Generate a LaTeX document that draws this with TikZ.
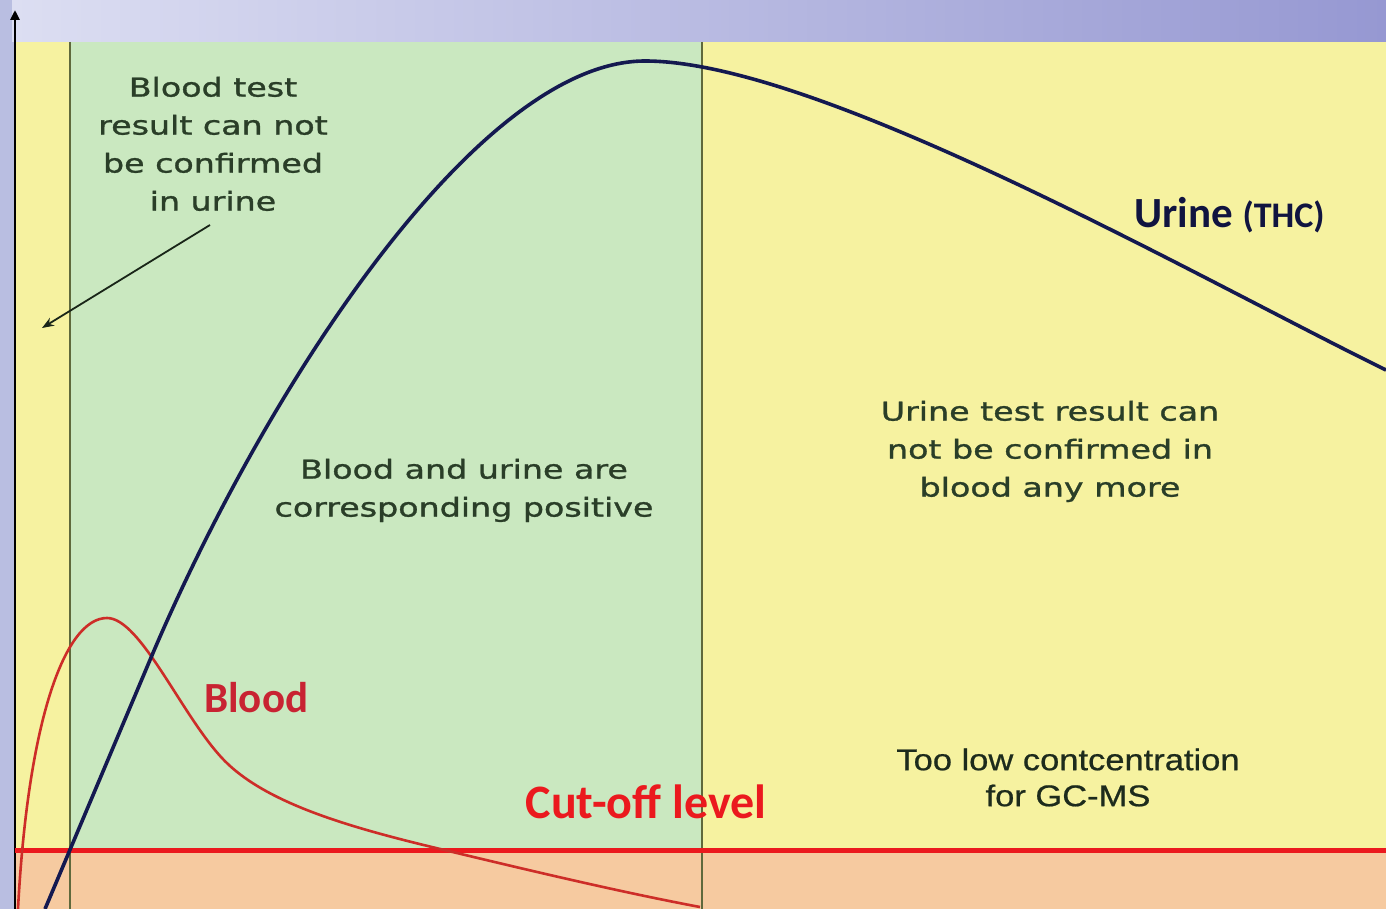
\documentclass[tikz,border=0pt]{standalone}
\usepackage{fontspec}
\usepackage{graphicx}
\setmainfont{DejaVu Sans}
\newfontfamily\notefont[FakeBold=1]{DejaVu Sans}
\newfontfamily\calib{Carlito}
\newfontfamily\arialf[FakeBold=0.6]{Liberation Sans}
\usetikzlibrary{arrows.meta}
\definecolor{bgblue}{RGB}{185,190,225}
\definecolor{bandL}{RGB}{220,222,242}
\definecolor{bandR}{RGB}{150,152,210}
\definecolor{zoneyellow}{RGB}{246,242,160}
\definecolor{zonegreen}{RGB}{202,232,192}
\definecolor{zonepeach}{RGB}{246,202,160}
\definecolor{divider}{RGB}{95,105,60}
\definecolor{cutred}{RGB}{235,25,30}
\definecolor{bloodred}{RGB}{205,45,40}
\definecolor{urineblue}{RGB}{20,25,80}
\definecolor{notegreen}{RGB}{42,62,40}
\definecolor{labelred}{RGB}{200,35,50}
\newcommand{\wnote}[1]{\scalebox{1.28}[1]{\notefont\fontsize{26}{38}\selectfont\begin{tabular}{@{}c@{}}#1\end{tabular}}}
\tikzset{
  note/.style={text=notegreen, inner sep=0pt},
  curvelabel/.style={inner sep=0pt},
  divline/.style={draw=divider, line width=1.8pt},
}
\begin{document}
\begin{tikzpicture}[x=1pt,y=-1pt]
\useasboundingbox (0,0) rectangle (1386,909);
% background
\fill[bgblue] (0,0) rectangle (1386,909);
\shade[left color=bandL, right color=bandR] (12,0) rectangle (1386,42);
% zones
\fill[zoneyellow] (15,42) rectangle (70,848);
\fill[zonegreen] (70,42) rectangle (702,848);
\fill[zoneyellow] (702,42) rectangle (1386,848);
\fill[zonepeach] (15,848) rectangle (1386,909);
% dividers
\coordinate (d1t) at (70,42); \coordinate (d1b) at (70,909);
\coordinate (d2t) at (702,42); \coordinate (d2b) at (702,909);
\draw[divline] (d1t) -- (d1b);
\draw[divline, line width=1.4pt] (d2t) -- (d2b);
% axis
\coordinate (axb) at (15,909); \coordinate (axt) at (15,10);
\draw[line width=2.6pt, -{Triangle[length=10pt,width=9pt]}] (axb) -- (axt);
% cut-off line
\coordinate (cl) at (15,850); \coordinate (cr) at (1386,850);
\draw[cutred, line width=5pt] (cl) -- (cr);
% blood curve
\coordinate (b0) at (18,909); \coordinate (bpk) at (107,618);
\coordinate (b2) at (221,757); \coordinate (b3) at (436,848); \coordinate (b4) at (700,907);
\draw[bloodred, line width=2.6pt]
  (b0) .. controls (28,720) and (65,618) .. (bpk)
       .. controls (140,618) and (180,712) .. (b2)
       .. controls (262,802) and (346,826.4) .. (b3)
       .. controls (526,869.6) and (620,892) .. (b4);
% urine curve
\coordinate (u0) at (45,909); \coordinate (u1) at (150,660);
\coordinate (upk) at (645,61); \coordinate (u3) at (1386,370);
\draw[urineblue, line width=3.6pt]
  (u0) .. controls (80,826) and (115,743) .. (u1)
       .. controls (260,399) and (475,61) .. (upk)
       .. controls (820,61) and (1200,279) .. (u3);
% texts
\node[note] (n1) at (213,146) {\wnote{Blood test\\result can not\\be confirmed\\in urine}};
\node[note] (n2) at (464,490) {\wnote{Blood and urine are\\corresponding positive}};
\node[note] (n3) at (1050,451) {\wnote{Urine test result can\\not be confirmed in\\blood any more}};
\node[curvelabel, text=notegreen!70!black] (n4) at (1068,781) {\scalebox{1.15}[1]{\arialf\fontsize{30}{36}\selectfont\begin{tabular}{@{}c@{}}Too low contcentration\\for GC-MS\end{tabular}}};
\node[curvelabel, text=urineblue!80!black, anchor=base west] (ul) at (1134,228) {\calib\bfseries\fontsize{43}{46}\selectfont Urine \fontsize{36}{38}\selectfont(THC)};
\node[curvelabel, text=labelred, anchor=base west] (bl) at (204,712) {\calib\bfseries\fontsize{43}{46}\selectfont Blood};
\node[curvelabel, text=cutred, anchor=base] (co) at (646,818) {\calib\bfseries\fontsize{48}{52}\selectfont Cut-off level};
% arrow
\coordinate (at) at (42,328);
\draw[notegreen!60!black, line width=1.8pt, -{Stealth[length=12pt,width=9pt]}] (210,225) -- (at);
\end{tikzpicture}
\end{document}
